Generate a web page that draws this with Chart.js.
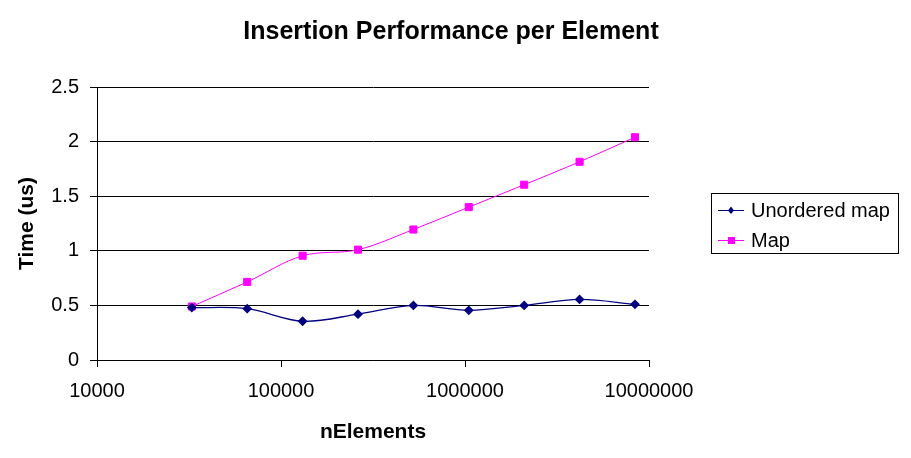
<!DOCTYPE html>
<html lang="en">
<head>
    <meta charset="UTF-8">
    <title>Insertion Performance per Element</title>
    <script src="https://cdn.jsdelivr.net/npm/chart.js@4.4.0/dist/chart.umd.min.js"></script>
    <style>
        body { margin: 0; background: #fff; }
        #wrap { width: 911px; height: 458px; }
    </style>
</head>
<body>
<div id="wrap">
    <canvas id="perfChart" width="911" height="458"></canvas>
</div>

<script>
    // data
    const nElements = [32768, 65536, 131072, 262144, 524288, 1048576, 2097152, 4194304, 8388608];
    const unorderedMap = [0.48, 0.47, 0.355, 0.42, 0.50, 0.455, 0.50, 0.555, 0.51];
    const orderedMap = [0.49, 0.715, 0.955, 1.01, 1.195, 1.40, 1.605, 1.815, 2.04];
    const xTickValues = [10000, 100000, 1000000, 10000000];
    const seriesNames = ['Unordered map', 'Map'];

    const FONT = "'Liberation Sans', Arial, sans-serif";
    const NAVY = '#000080';
    const MAGENTA = '#FF00FF';

    // legend in a bordered box, drawn on the right like the original
    const boxLegend = {
        id: 'boxLegend',
        afterDraw(chart) {
            const ctx = chart.ctx;
            const x0 = chart.chartArea.right + 62;
            const y0 = 193;
            ctx.save();
            ctx.strokeStyle = '#000';
            ctx.lineWidth = 1;
            ctx.strokeRect(x0 + 0.5, y0 + 0.5, 187, 60);

            ctx.font = '20px ' + FONT;
            ctx.textBaseline = 'middle';
            chart.data.datasets.forEach((ds, i) => {
                const y = y0 + 17 + i * 30;
                const lx = x0 + 7;
                ctx.strokeStyle = ds.borderColor;
                ctx.lineWidth = 1;
                ctx.beginPath();
                ctx.moveTo(lx, y + 0.5);
                ctx.lineTo(lx + 26, y + 0.5);
                ctx.stroke();

                const cx = lx + 13;
                ctx.fillStyle = ds.pointBackgroundColor;
                ctx.beginPath();
                if (ds.pointStyle === 'rectRot') {
                    ctx.moveTo(cx, y - 3.5);
                    ctx.lineTo(cx + 3, y + 0.5);
                    ctx.lineTo(cx, y + 4);
                    ctx.lineTo(cx - 3, y + 0.5);
                    ctx.closePath();
                    ctx.fill();
                } else {
                    ctx.fillRect(cx - 3, y - 3, 7, 7);
                }

                ctx.fillStyle = '#000';
                ctx.fillText(ds.label, x0 + 40, y + 1);
            });
            ctx.restore();
        }
    };

    new Chart(document.getElementById('perfChart'), {
        type: 'line',
        data: {
            datasets: [{
                label: seriesNames[0],
                data: nElements.map((n, i) => ({ x: n, y: unorderedMap[i] })),
                borderColor: NAVY,
                backgroundColor: NAVY,
                pointBackgroundColor: NAVY,
                pointBorderColor: NAVY,
                pointStyle: 'rectRot',
                pointRadius: 4,
                borderWidth: 1.3,
                tension: 0.33,
                fill: false
            }, {
                label: seriesNames[1],
                data: nElements.map((n, i) => ({ x: n, y: orderedMap[i] })),
                borderColor: MAGENTA,
                backgroundColor: MAGENTA,
                pointBackgroundColor: MAGENTA,
                pointBorderColor: MAGENTA,
                pointStyle: 'rect',
                pointRadius: 5,
                borderWidth: 1,
                tension: 0.33,
                fill: false
            }]
        },
        options: {
            responsive: false,
            animation: false,
            layout: { padding: { left: 0, right: 9, top: 0, bottom: 0 } },
            plugins: {
                legend: { display: false },
                tooltip: { enabled: false },
                title: {
                    display: true,
                    text: 'Insertion Performance per Element',
                    color: '#000',
                    font: { family: FONT, size: 25, weight: 'bold' },
                    padding: { top: 17, bottom: 40 }
                }
            },
            scales: {
                x: {
                    type: 'logarithmic',
                    min: 10000,
                    max: 10000000,
                    afterFit(scale) { scale.height = 98; },
                    afterBuildTicks(scale) {
                        scale.ticks = xTickValues.map(v => ({ value: v }));
                    },
                    grid: {
                        drawOnChartArea: false,
                        drawTicks: true,
                        tickLength: 7,
                        color: '#000'
                    },
                    border: { color: '#000', width: 1 },
                    ticks: {
                        color: '#000',
                        padding: 12,
                        maxRotation: 0,
                        autoSkip: false,
                        font: { family: FONT, size: 20 },
                        callback: v => String(v)
                    },
                    title: {
                        display: true,
                        text: 'nElements',
                        color: '#000',
                        font: { family: FONT, size: 21, weight: 'bold' },
                        padding: { top: 0, bottom: 13 }
                    }
                },
                y: {
                    min: 0,
                    max: 2.5,
                    afterFit(scale) { scale.width = 97; },
                    grid: {
                        color: '#000',
                        lineWidth: 1,
                        tickLength: 7
                    },
                    border: { color: '#000', width: 1 },
                    ticks: {
                        stepSize: 0.5,
                        color: '#000',
                        padding: 11,
                        font: { family: FONT, size: 20 },
                        callback: v => String(v)
                    },
                    title: {
                        display: true,
                        text: 'Time (us)',
                        color: '#000',
                        font: { family: FONT, size: 21, weight: 'bold' },
                        padding: { top: 15, bottom: 0 }
                    }
                },
                // empty right-hand box that leaves room for the legend
                legendSpace: {
                    position: 'right',
                    min: 0,
                    max: 1,
                    afterFit(scale) { scale.width = 253; },
                    grid: { display: false },
                    border: { display: false },
                    ticks: { display: false }
                }
            }
        },
        plugins: [boxLegend]
    });
</script>
</body>
</html>
